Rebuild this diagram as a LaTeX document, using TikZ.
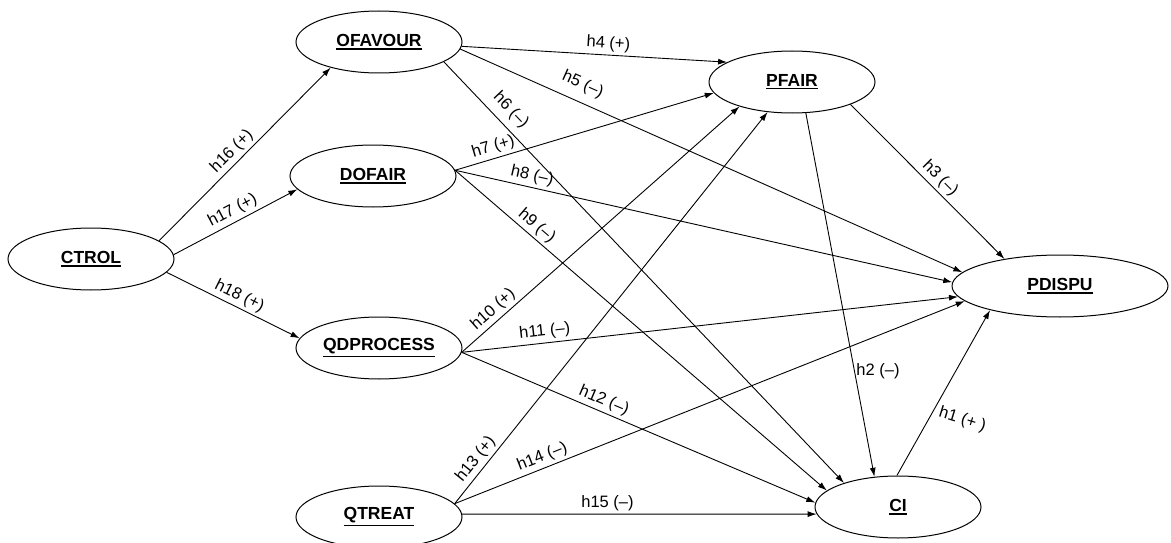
\documentclass[tikz,border=0pt]{standalone}
\usepackage{fontspec}
\setmainfont{Liberation Sans}
\usetikzlibrary{shapes.geometric,arrows.meta}

% bold variable name with a heavy underline
\newcommand{\ulname}[1]{\setbox0=\hbox{#1}\vtop{\copy0\kern1.2pt\hrule height1.7pt width\wd0}}

\begin{document}
\begin{tikzpicture}[x=1pt,y=-1pt,
  var/.style={ellipse,draw,line width=1pt,minimum width=166pt,minimum height=62pt,
    inner sep=0pt,font=\fontsize{17.5}{20}\selectfont\bfseries},
  link/.style={draw,line width=0.9pt,-{Latex[length=9pt,width=6pt]}},
  lab/.style={font=\fontsize{16.5}{19}\selectfont,inner sep=3pt}]
\useasboundingbox (0,0) rectangle (1171,543);

% constructs
\node[var] (CTROL) at (91,259) {\ulname{CTROL}};
\node[var] (OFAVOUR) at (379,42) {\ulname{OFAVOUR}};
\node[var] (DOFAIR) at (373,176) {\ulname{DOFAIR}};
\node[var] (QDPROCESS) at (379,348) {\ulname{QDPROCESS}};
\node[var] (QTREAT) at (379,517) {\ulname{QTREAT}};
\node[var] (PFAIR) at (792,82) {\ulname{PFAIR}};
\node[var,minimum width=216pt] (PDISPU) at (1060,286) {\ulname{PDISPU}};
\node[var] (CI) at (898,507) {\ulname{CI}};

% hypotheses from CTROL
\draw[link] (CTROL.15) -- node[lab,sloped,above,pos=0.47]{h16 (+)} (OFAVOUR.208);
\draw[link] (CTROL.3) -- node[lab,sloped,above,pos=0.52]{h17 (+)} (DOFAIR.190);
\draw[link] (CTROL.350) -- node[lab,sloped,above,pos=0.51]{h18 (+)} (QDPROCESS.173);

% hypotheses from OFAVOUR
\draw[link] (OFAVOUR.357) -- node[lab,sloped,above,pos=0.55]{h4 (+)} (PFAIR.163);
\draw[link] (OFAVOUR.355) -- node[lab,sloped,above=6pt,pos=0.23]{h5 (–)} (PDISPU.172);
\draw[link] (OFAVOUR.343) -- node[lab,sloped,above=4pt,pos=0.14]{h6 (–)} (CI.156);

% hypotheses from DOFAIR
\draw[link] (DOFAIR.4) -- node[lab,sloped,above,pos=0.16]{h7 (+)} (PFAIR.188);
\draw[link] (DOFAIR.4) -- node[lab,sloped,above,pos=0.15]{h8 (–)} (PDISPU.178);
\draw[link] (DOFAIR.4) -- node[lab,sloped,above,pos=0.2]{h9 (–)} (CI.167);

% hypotheses from QDPROCESS
\draw[link] (QDPROCESS.357) -- node[lab,sloped,above,pos=0.14]{h10 (+)} (PFAIR.205);
\draw[link] (QDPROCESS.357) -- node[lab,sloped,above,pos=0.17]{h11 (–)} (PDISPU.186);
\draw[link] (QDPROCESS.357) -- node[lab,sloped,above,pos=0.39]{h12 (–)} (CI.177);

% hypotheses from QTREAT
\draw[link] (QTREAT.10) -- node[lab,sloped,above,pos=0.095]{h13 (+)} (PFAIR.231);
\draw[link] (QTREAT.10) -- node[lab,sloped,above,pos=0.18]{h14 (–)} (PDISPU.189);
\draw[link] (QTREAT.2) -- node[lab,sloped,above,pos=0.41]{h15 (–)} (CI.185);

% hypotheses from PFAIR and CI
\draw[link] (PFAIR.339) -- node[lab,sloped,above,pos=0.53]{h3 (–)} (PDISPU.154);
\draw[link] (PFAIR.294) -- node[lab,anchor=west,inner sep=1.5pt,pos=0.71]{h2 (–)} (CI.128);
\draw[link] (CI.92) -- node[lab,anchor=west,rotate=-17,xshift=3pt,pos=0.39]{h1 (+ )} (PDISPU.199);
\end{tikzpicture}
\end{document}
